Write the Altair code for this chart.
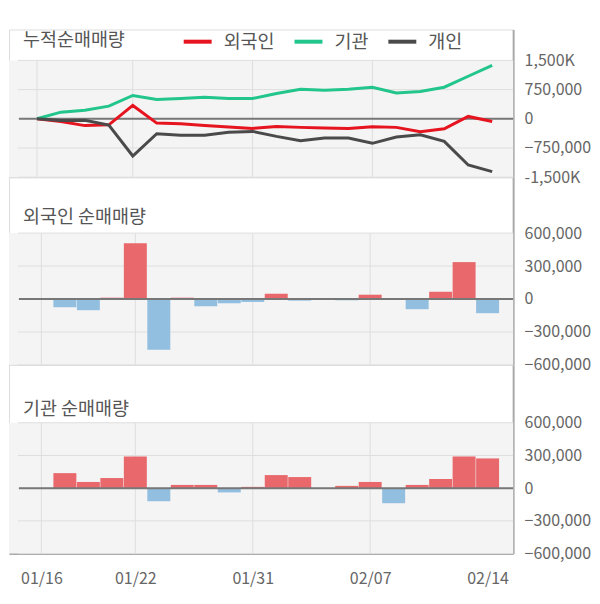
import altair as alt
import pandas as pd

# ---------------- data ----------------
dates = ["01/16", "01/17", "01/20", "01/21", "01/22", "01/23", "01/28", "01/29",
         "01/30", "01/31", "02/03", "02/04", "02/05", "02/06", "02/07", "02/10",
         "02/11", "02/12", "02/13", "02/14"]

foreign_net = [0, -75000, -102000, 12000, 507000, -462000, 12000, -66000, -39000,
               -27000, 48000, -15000, 0, -12000, 39000, 0, -93000, 66000, 336000,
               -129000]
inst_net = [0, 138000, 57000, 93000, 291000, -120000, 30000, 30000, -39000, 12000,
            120000, 102000, 0, 21000, 57000, -138000, 30000, 84000, 291000, 273000]

foreign_cum = [0, -70000, -175000, -154000, 343000, -110000, -128000, -169000,
               -212000, -246000, -195000, -220000, -238000, -246000, -205000,
               -220000, -333000, -256000, 61000, -67000]
inst_cum = [0, 171000, 222000, 325000, 599000, 497000, 522000, 555000, 522000,
            522000, 650000, 760000, 735000, 760000, 811000, 666000, 701000, 811000,
            1093000, 1375000]
indiv_cum = [0, -45000, -40000, -161000, -955000, -384000, -425000, -425000,
             -348000, -323000, -451000, -563000, -494000, -494000, -630000, -469000,
             -410000, -579000, -1185000, -1357000]

series_names = ["외국인", "기관", "개인"]
series_colors = ["#e6141e", "#22c58b", "#4a4a4a"]
panel_titles = ["누적순매매량", "외국인 순매매량", "기관 순매매량"]

tick_idx = [0, 4, 9, 14, 19]
vgrid_idx = [0, 4, 9, 14]
cum_ticks = [-1500000, -750000, 0, 750000, 1500000]
net_ticks = [-600000, -300000, 0, 300000, 600000]

# ---------------- styling / layout ----------------
FONT = "Noto Sans CJK KR"
W = 505
BG = "#f4f4f4"
GRID = "#dedede"
RED_BAR = "#e8686b"
BLUE_BAR = "#92bee0"
XDOM = [-1.1667, 19.875]
TITLE_SIZE = 18.5

xscale = alt.Scale(domain=XDOM, nice=False, zero=False)
label_list = "[" + ",".join("'" + d + "'" for d in dates) + "]"


def x_axis(show):
    if not show:
        return None
    return alt.Axis(values=tick_idx, labelExpr=label_list + "[round(datum.value)]",
                    grid=False, ticks=False, domainColor="#aaaaaa", domainWidth=2,
                    labelPadding=17, labelFontSize=16, labelColor="#666666",
                    labelFont=FONT, title=None)


def y_axis(ticks, label_expr):
    return alt.Axis(orient="right", values=ticks, labelExpr=label_expr, grid=False,
                    ticks=False, domainColor="#aaaaaa", domainWidth=2,
                    labelPadding=11, labelFontSize=16, labelColor="#666666",
                    labelFont=FONT, title=None)


def panel(lo, hi, height, ext, ticks, label_expr, title, title_y, data_layer_fn, show_x):
    # plot area: 'ext' px of white header on top, then the grey band from hi down to lo
    top = hi + (hi - lo) * ext / (height - ext)
    yscale = alt.Scale(domain=[lo, top], nice=False, zero=False)
    yax = y_axis(ticks, label_expr)
    xax = x_axis(show_x)

    bg = alt.Chart(pd.DataFrame({"a": [lo], "b": [hi]})).mark_rect(color=BG).encode(
        x=alt.value(0), x2=alt.value(W),
        y=alt.Y("b", type="quantitative", scale=yscale, axis=yax),
        y2=alt.Y2("a"))

    hgrid = alt.Chart(pd.DataFrame({"v": ticks})).mark_rule(color=GRID, strokeWidth=1).encode(
        x=alt.value(9), x2=alt.value(W),
        y=alt.Y("v", type="quantitative", scale=yscale, axis=yax))

    vgrid = alt.Chart(pd.DataFrame({"k": vgrid_idx})).mark_rule(
        color=GRID, strokeWidth=1).encode(
        x=alt.X("k", type="quantitative", scale=xscale, axis=xax),
        y=alt.value(ext), y2=alt.value(height))

    zero = alt.Chart(pd.DataFrame({"v": [0]})).mark_rule(color="#777777", strokeWidth=2).encode(
        x=alt.value(10), x2=alt.value(W),
        y=alt.Y("v", type="quantitative", scale=yscale, axis=yax))

    ttl = alt.Chart(pd.DataFrame({"t": [title]})).mark_text(
        align="left", baseline="middle", fontSize=TITLE_SIZE, color="#555555",
        font=FONT).encode(x=alt.value(14), y=alt.value(title_y), text="t:N")

    layers = [bg, hgrid, vgrid] + data_layer_fn(yscale, yax, xax, zero) + [ttl]
    return alt.layer(*layers).properties(width=W, height=height)


def cum_layers(yscale, yax, xax, zero):
    rows = []
    for name, vals in zip(series_names, [foreign_cum, inst_cum, indiv_cum]):
        for i, v in enumerate(vals):
            rows.append({"k": i, "v": v, "s": name})
    df = pd.DataFrame(rows)
    lines = alt.Chart(df).mark_line(strokeWidth=3).encode(
        x=alt.X("k", type="quantitative", scale=xscale, axis=xax),
        y=alt.Y("v", type="quantitative", scale=yscale, axis=yax),
        color=alt.Color("s:N", sort=series_names,
                        scale=alt.Scale(domain=series_names, range=series_colors),
                        legend=alt.Legend(orient="none", legendX=173, legendY=-4,
                                          direction="horizontal", title=None,
                                          symbolType="stroke", symbolSize=784,
                                          symbolStrokeWidth=4, labelFontSize=TITLE_SIZE,
                                          labelColor="#555555", labelFont=FONT,
                                          labelOffset=10, columnPadding=11)),
        detail="s:N")
    return [zero, lines]


def bar_layers_for(values):
    def fn(yscale, yax, xax, zero):
        df = pd.DataFrame({"k": list(range(len(values))), "v": values})
        bars = alt.Chart(df).mark_bar(size=23).encode(
            x=alt.X("k", type="quantitative", scale=xscale, axis=xax),
            y=alt.Y("v", type="quantitative", scale=yscale, axis=yax),
            color=alt.condition(alt.datum.v > 0, alt.value(RED_BAR), alt.value(BLUE_BAR)))
        return [bars, zero]
    return fn


cum_expr = ("datum.value == 1500000 ? '1,500K' : datum.value == -1500000 ? '-1,500K' : "
            "format(datum.value, ',')")
net_expr = "format(datum.value, ',')"

p1 = panel(-1500000, 1500000, 148, 31, cum_ticks, cum_expr,
           panel_titles[0], 11, cum_layers, False)
p2 = panel(-600000, 600000, 188, 56, net_ticks, net_expr,
           panel_titles[1], 40, bar_layers_for(foreign_net), False)
p3 = panel(-600000, 600000, 189, 58, net_ticks, net_expr,
           panel_titles[2], 44, bar_layers_for(inst_net), True)

chart = alt.vconcat(p1, p2, p3, spacing=0, bounds="flush").properties(
    padding={"left": 0, "top": 17, "right": 0, "bottom": 0}
).configure_view(stroke=None).configure(font=FONT)

chart.save("out.html", embed_options={"renderer": "svg", "actions": False})
